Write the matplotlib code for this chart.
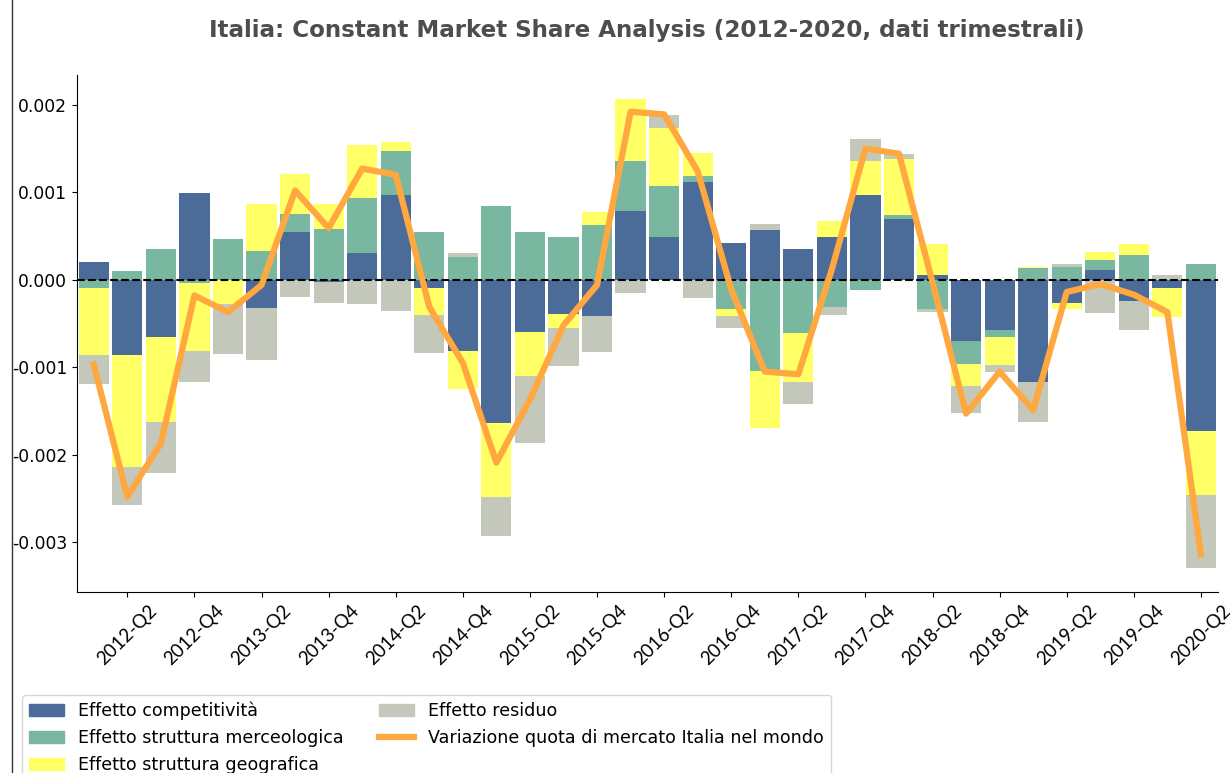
import numpy as np
import matplotlib
matplotlib.use('Agg')
from matplotlib import pyplot as plt
from matplotlib.lines import Line2D
from matplotlib.patches import Patch

plt.rcParams['axes.unicode_minus'] = False

quarters = ['%d-Q%d' % (y, q) for y in range(2012, 2021) for q in range(1, 5)][:34]

eff_competitivita = [0.00020, -0.00086, -0.00065, 0.00099, 0.0, -0.00032, 0.00055, -0.00003,
                     0.00030, 0.00097, -0.00010, -0.00081, -0.00164, -0.00060, -0.00039, -0.00041,
                     0.00078, 0.00049, 0.00112, 0.00042, 0.00057, 0.00035, 0.00049, 0.00097,
                     0.00069, 0.00005, -0.00070, -0.00057, -0.00117, -0.00027, 0.00011, -0.00024,
                     -0.00009, -0.00173]
eff_merceologica = [-0.00009, 0.00010, 0.00035, -0.00004, 0.00047, 0.00033, 0.00020, 0.00058,
                    0.00063, 0.00050, 0.00054, 0.00026, 0.00084, 0.00055, 0.00049, 0.00063,
                    0.00058, 0.00058, 0.00007, -0.00033, -0.00104, -0.00061, -0.00031, -0.00012,
                    0.00005, -0.00034, -0.00026, -0.00009, 0.00013, 0.00014, 0.00011, 0.00028,
                    0.0, 0.00018]
eff_geografica = [-0.00077, -0.00128, -0.00098, -0.00078, -0.00028, 0.00053, 0.00046, 0.00029,
                  0.00061, 0.00010, -0.00030, -0.00044, -0.00084, -0.00050, -0.00016, 0.00014,
                  0.00070, 0.00066, 0.00026, -0.00009, -0.00065, -0.00056, 0.00018, 0.00039,
                  0.00064, 0.00036, -0.00026, -0.00031, 0.00001, -0.00006, 0.00010, 0.00013,
                  -0.00034, -0.00073]
eff_residuo = [-0.00033, -0.00044, -0.00058, -0.00035, -0.00057, -0.00060, -0.00020, -0.00024,
               -0.00028, -0.00036, -0.00044, 0.00005, -0.00045, -0.00077, -0.00044, -0.00042,
               -0.00015, 0.00015, -0.00021, -0.00013, 0.00007, -0.00025, -0.00009, 0.00025,
               0.00006, -0.00003, -0.00030, -0.00009, -0.00046, 0.00004, -0.00038, -0.00034,
               0.00005, -0.00083]
var_quota = [-0.00097, -0.00248, -0.00187, -0.00018, -0.00037, -0.00006, 0.00102, 0.00059,
             0.00127, 0.00120, -0.00031, -0.00095, -0.00209, -0.00137, -0.00052, -0.00006,
             0.00192, 0.00189, 0.00124, -0.00011, -0.00105, -0.00108, 0.00012, 0.00150,
             0.00144, -0.00003, -0.00153, -0.00105, -0.00149, -0.00014, -0.00005, -0.00017,
             -0.00037, -0.00314]

series = [eff_competitivita, eff_merceologica, eff_geografica, eff_residuo]
labels = ['Effetto competitività', 'Effetto struttura merceologica',
          'Effetto struttura geografica', 'Effetto residuo']
colors = ['#4b6b99', '#7ab7a0', '#ffff66', '#c4c8bb']
line_color = '#ffa83f'

fig = plt.figure(figsize=(12.3, 7.73), dpi=100)
ax = fig.add_axes([0.0626, 0.234, 0.9274, 0.669])

x = np.arange(len(quarters))
pos_bottom = np.zeros(len(x))
neg_bottom = np.zeros(len(x))
for vals, col in zip(series, colors):
    v = np.array(vals)
    bottom = np.where(v >= 0, pos_bottom, neg_bottom)
    ax.bar(x, v, width=0.9, bottom=bottom, color=col, zorder=2)
    pos_bottom = pos_bottom + np.where(v >= 0, v, 0)
    neg_bottom = neg_bottom + np.where(v < 0, v, 0)

ax.axhline(0, color='black', linestyle='--', lw=1.5, zorder=3)
ax.plot(x, var_quota, color=line_color, lw=4.5, zorder=4)

ax.set_xlim(-0.5, 33.5)
ax.set_ylim(-0.00357, 0.00234)
yt = [-0.003, -0.002, -0.001, 0.0, 0.001, 0.002]
ax.set_yticks(yt)
ax.set_yticklabels(['%.3f' % t for t in yt], fontsize=12.3)
ax.set_xticks(x[1::2])
ax.set_xticklabels(quarters[1::2], rotation=45, ha='center',
                   fontsize=13.5, family=['Lato', 'DejaVu Sans'])
ax.spines['top'].set_visible(False)
ax.spines['right'].set_visible(False)

fig.text(0.526, 0.961, 'Italia: Constant Market Share Analysis (2012-2020, dati trimestrali)',
         ha='center', va='center', fontsize=16.6, fontweight='bold', color='#4d4d4d')

# bordo verticale a sinistra
fig.add_artist(Line2D([0.0095, 0.0095], [0, 1], color='#333333', lw=1))

handles = [Patch(color=c) for c in colors] + [Line2D([], [], color=line_color, lw=4.5)]
fig.legend(handles, labels + ['Variazione quota di mercato Italia nel mondo'],
           loc='upper left', bbox_to_anchor=(0.018, 0.101), borderaxespad=0,
           ncol=2, fontsize=12.65, frameon=True)

fig.savefig('out.png', dpi=100)
